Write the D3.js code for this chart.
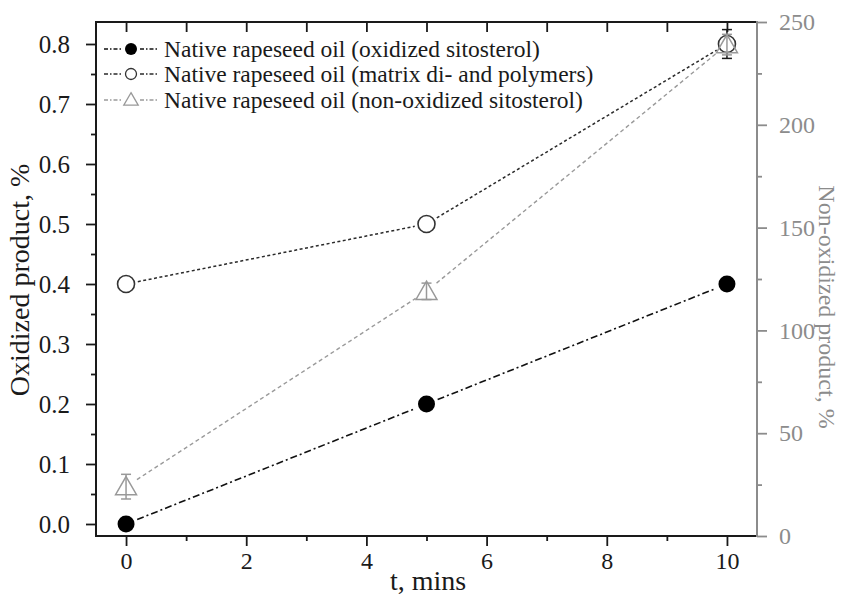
<!DOCTYPE html>
<html>
<head>
<meta charset="utf-8">
<script src="https://cdn.jsdelivr.net/npm/d3@7/dist/d3.min.js"></script>
<style>
  html, body { margin: 0; padding: 0; background: #fff; }
  svg { display: block; font-family: "Liberation Serif", "Times New Roman", serif; }
</style>
</head>
<body>
<svg id="chart" width="843" height="596"></svg>
<script>
// Sampling times (minutes)
const times = [0, 5, 10];
// Oxidized sitosterol, % (left axis)
const oxidized = [0.0, 0.2, 0.4];
// Matrix di- and polymers, % (left axis)
const matrix = [0.4, 0.5, 0.8];
const matrixErr = [0, 0, 0.024];
// Non-oxidized sitosterol, % (right axis)
const nonOxidized = [24, 119, 239];
const nonOxidizedErr = [6, 4, 5];

// Axis ticks
const xTicks = [0, 2, 4, 6, 8, 10];
const xMinorTicks = [1, 3, 5, 7, 9];
const leftTicks = [0, 0.1, 0.2, 0.3, 0.4, 0.5, 0.6, 0.7, 0.8];
const leftMinorTicks = [0.05, 0.15, 0.25, 0.35, 0.45, 0.55, 0.65, 0.75];
const rightTicks = [0, 50, 100, 150, 200, 250];
const rightMinorTicks = [25, 75, 125, 175, 225];

const seriesNames = [
  "Native rapeseed oil (oxidized sitosterol)",
  "Native rapeseed oil (matrix di- and polymers)",
  "Native rapeseed oil (non-oxidized sitosterol)"
];

const serif = '"Liberation Serif", "Times New Roman", serif';
const frame = { left: 96, right: 757, top: 22, bottom: 536 };
const dark = "#1a1a1a";
const grey = "#8c8c8c";

const svg = d3.select("#chart");

const x = d3.scaleLinear().domain([-0.5, 10.5]).range([frame.left, frame.right]);
const yL = d3.scaleLinear().domain([0, 0.8]).range([524, 44]);
const yR = d3.scaleLinear().domain([0, 250]).range([frame.bottom, frame.top]);

function styleAxis(g, color, fontSize) {
  g.attr("font-family", serif);
  g.select(".domain").remove();
  g.selectAll(".tick line").attr("stroke", color).attr("stroke-width", 1.8);
  g.selectAll(".tick text").attr("fill", color)
    .attr("font-family", serif)
    .style("font-size", fontSize + "px");
}

// Bottom axis: major and minor ticks pointing outward
const gxMinor = svg.append("g").attr("transform", `translate(0,${frame.bottom})`)
  .call(d3.axisBottom(x).tickValues(xMinorTicks).tickSize(5).tickFormat(""));
styleAxis(gxMinor, dark, 24);
const gx = svg.append("g").attr("transform", `translate(0,${frame.bottom})`)
  .call(d3.axisBottom(x).tickValues(xTicks).tickSize(10).tickPadding(6).tickFormat(d3.format("d")));
styleAxis(gx, dark, 24);

// Top axis: mirrored ticks pointing inward
const gTop = svg.append("g").attr("transform", `translate(0,${frame.top})`)
  .call(d3.axisTop(x).tickValues(xTicks.concat(xMinorTicks)).tickSize(-10).tickFormat(""));
styleAxis(gTop, dark, 24);

// Left axis
const gyMinor = svg.append("g").attr("transform", `translate(${frame.left},0)`)
  .call(d3.axisLeft(yL).tickValues(leftMinorTicks).tickSize(5).tickFormat(""));
styleAxis(gyMinor, dark, 24);
const gy = svg.append("g").attr("transform", `translate(${frame.left},0)`)
  .call(d3.axisLeft(yL).tickValues(leftTicks).tickSize(10).tickPadding(16).tickFormat(d3.format(".1f")));
styleAxis(gy, dark, 25);

// Right axis (grey)
const grMinor = svg.append("g").attr("transform", `translate(${frame.right},0)`)
  .call(d3.axisRight(yR).tickValues(rightMinorTicks).tickSize(5).tickFormat(""));
styleAxis(grMinor, grey, 24);
const gr = svg.append("g").attr("transform", `translate(${frame.right},0)`)
  .call(d3.axisRight(yR).tickValues(rightTicks).tickSize(10).tickPadding(12).tickFormat(d3.format("d")));
styleAxis(gr, grey, 24);

// Frame
svg.append("line").attr("x1", frame.left).attr("x2", frame.right).attr("y1", frame.top).attr("y2", frame.top)
  .attr("stroke", dark).attr("stroke-width", 2);
svg.append("line").attr("x1", frame.left).attr("x2", frame.right).attr("y1", frame.bottom).attr("y2", frame.bottom)
  .attr("stroke", dark).attr("stroke-width", 2);
svg.append("line").attr("x1", frame.left).attr("x2", frame.left).attr("y1", frame.top - 1).attr("y2", frame.bottom + 1)
  .attr("stroke", dark).attr("stroke-width", 2);
svg.append("line").attr("x1", frame.right).attr("x2", frame.right).attr("y1", frame.top - 1).attr("y2", frame.bottom + 1)
  .attr("stroke", grey).attr("stroke-width", 2);

// Axis titles
svg.append("text").attr("x", 428).attr("y", 590).attr("font-family", serif)
  .attr("text-anchor", "middle").attr("fill", dark).style("font-size", "28px").text("t, mins");
svg.append("text").attr("transform", "translate(29,280) rotate(-90)").attr("font-family", serif)
  .attr("text-anchor", "middle").attr("fill", dark).style("font-size", "28px").text("Oxidized product, %");
svg.append("text").attr("transform", "translate(819,307) rotate(90)").attr("font-family", serif)
  .attr("text-anchor", "middle").attr("fill", grey).style("font-size", "24px").text("Non-oxidized product, %");

// Connecting lines with a small gap around each marker
function gappedSegments(xs, ys, yScale, gap) {
  const pts = xs.map((t, i) => [x(t), yScale(ys[i])]);
  const segs = [];
  for (let i = 0; i < pts.length - 1; i++) {
    const [x1, y1] = pts[i], [x2, y2] = pts[i + 1];
    const len = Math.hypot(x2 - x1, y2 - y1);
    const ux = (x2 - x1) / len, uy = (y2 - y1) / len;
    segs.push([[x1 + ux * gap, y1 + uy * gap], [x2 - ux * gap, y2 - uy * gap]]);
  }
  return segs;
}
const line = d3.line();

const styles = [
  { color: "#111", dash: "7,3,2,3", width: 1.6 },
  { color: "#2a2a2a", dash: "3,2.5", width: 1.5 },
  { color: "#9a9a9a", dash: "4,3", width: 1.4 }
];

svg.append("g").selectAll("path").data(gappedSegments(times, nonOxidized, yR, 13)).join("path")
  .attr("d", line).attr("fill", "none").attr("stroke", styles[2].color)
  .attr("stroke-width", styles[2].width).attr("stroke-dasharray", styles[2].dash);
svg.append("g").selectAll("path").data(gappedSegments(times, matrix, yL, 12)).join("path")
  .attr("d", line).attr("fill", "none").attr("stroke", styles[1].color)
  .attr("stroke-width", styles[1].width).attr("stroke-dasharray", styles[1].dash);
svg.append("g").selectAll("path").data(gappedSegments(times, oxidized, yL, 12)).join("path")
  .attr("d", line).attr("fill", "none").attr("stroke", styles[0].color)
  .attr("stroke-width", styles[0].width).attr("stroke-dasharray", styles[0].dash);

// Error bars
function errorBars(g, xs, ys, errs, yScale, color) {
  xs.forEach((t, i) => {
    if (!errs[i]) return;
    const cx = x(t), top = yScale(ys[i] + errs[i]), bot = yScale(ys[i] - errs[i]);
    g.append("line").attr("x1", cx).attr("x2", cx).attr("y1", top).attr("y2", bot)
      .attr("stroke", color).attr("stroke-width", 1.5);
    [top, bot].forEach(yy => g.append("line").attr("x1", cx - 5).attr("x2", cx + 5)
      .attr("y1", yy).attr("y2", yy).attr("stroke", color).attr("stroke-width", 1.5));
  });
}
errorBars(svg.append("g"), times, matrix, matrixErr, yL, dark);

// Markers
const triangle = d3.symbol().type(d3.symbolTriangle).size(190);
svg.append("g").selectAll("circle.open").data(times).join("circle")
  .attr("cx", d => x(d)).attr("cy", (d, i) => yL(matrix[i])).attr("r", 8.5)
  .attr("fill", "#fff").attr("stroke", "#333").attr("stroke-width", 1.6);
svg.append("g").selectAll("path").data(times).join("path")
  .attr("d", triangle)
  .attr("transform", (d, i) => `translate(${x(d)},${yR(nonOxidized[i]) + 2})`)
  .attr("fill", "none").attr("stroke", "#999").attr("stroke-width", 1.5);
errorBars(svg.append("g"), times, nonOxidized, nonOxidizedErr, yR, "#999");
svg.append("g").selectAll("circle.filled").data(times).join("circle")
  .attr("cx", d => x(d)).attr("cy", (d, i) => yL(oxidized[i])).attr("r", 8.5)
  .attr("fill", "#000");

// Legend
const legend = svg.append("g");
const rowY = [49, 74, 100];
seriesNames.forEach((name, i) => {
  const ly = rowY[i];
  const s = styles[i];
  [[104, 122], [140, 158]].forEach(([a, b]) => legend.append("line")
    .attr("x1", a).attr("x2", b).attr("y1", ly).attr("y2", ly)
    .attr("stroke", s.color).attr("stroke-width", s.width).attr("stroke-dasharray", "4,2,1.5,2"));
  if (i === 0) {
    legend.append("circle").attr("cx", 131).attr("cy", ly).attr("r", 6).attr("fill", "#000");
  } else if (i === 1) {
    legend.append("circle").attr("cx", 131).attr("cy", ly).attr("r", 5.5)
      .attr("fill", "#fff").attr("stroke", "#333").attr("stroke-width", 1.3);
  } else {
    legend.append("path").attr("d", d3.symbol().type(d3.symbolTriangle).size(90))
      .attr("transform", `translate(131,${ly + 1})`)
      .attr("fill", "none").attr("stroke", "#999").attr("stroke-width", 1.3);
  }
  legend.append("text").attr("x", 164).attr("y", ly + 8).attr("fill", dark)
    .attr("font-family", serif).style("font-size", "23.5px").text(name);
});
</script>
</body>
</html>
